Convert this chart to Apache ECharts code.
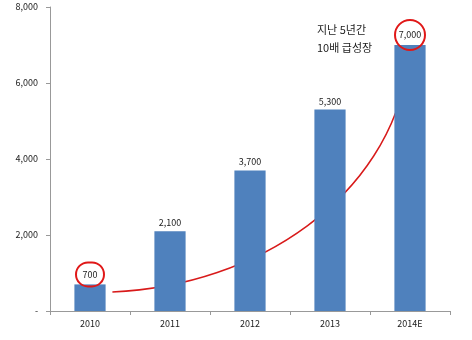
<!DOCTYPE html>
<html><head><meta charset="utf-8">
<script src="https://cdn.jsdelivr.net/npm/echarts@6/dist/echarts.min.js"></script>
<style>html,body{margin:0;padding:0;background:#fff}#c{width:472px;height:340px}</style>
</head><body><div id="c"></div>
<script>
var categories = ['2010', '2011', '2012', '2013', '2014E'];
var values = [700, 2100, 3700, 5300, 7000];
var circled = [0, 4];
var yTicks = [0, 2000, 4000, 6000, 8000];
var note = ['지난 5년간', '10배 급성장'];

var font = '"Noto Sans CJK KR", "Noto Sans", sans-serif';
function fmt(v){ return v === 0 ? '-' : v.toLocaleString('en-US'); }

var chart = echarts.init(document.getElementById('c'));
var data = values.map(function(v, i){
  var d = { value: v };
  if (circled.indexOf(i) >= 0) {
    var big = v >= 1000;
    d.label = {
      width: big ? 30 : 28, height: big ? 30 : 24, lineHeight: big ? 30 : 24,
      align: 'center', borderColor: '#e01818', borderWidth: 2,
      borderRadius: big ? 15 : 13, padding: 0,
      position: 'top', distance: big ? -5 : -2
    };
  }
  return d;
});
chart.setOption({
  animation: false,
  grid: { left: 50, right: 22, top: 7, bottom: 29 },
  xAxis: {
    type: 'category', data: categories,
    axisLine: { lineStyle: { color: '#999' } },
    axisTick: { show: true, alignWithLabel: false, length: 4, lineStyle: { color: '#999' } },
    axisLabel: { color: '#222', fontSize: 9, fontFamily: font, margin: 8 }
  },
  yAxis: {
    type: 'value', min: 0, max: yTicks[yTicks.length-1], interval: yTicks[1]-yTicks[0],
    splitLine: { show: false },
    axisLine: { show: true, lineStyle: { color: '#999' } },
    axisTick: { show: true, length: 4, lineStyle: { color: '#999' } },
    axisLabel: { color: '#222', fontSize: 9, fontFamily: font, margin: 12, formatter: fmt }
  },
  series: [{
    type: 'bar', data: data, barWidth: '39%',
    itemStyle: { color: '#4F81BD' },
    label: { show: true, position: 'top', distance: 4, color: '#222', fontSize: 9, fontFamily: font,
      formatter: function(p){ return fmt(p.value); } }
  }]
});

// annotation arrow built from axis coordinates
var p0 = chart.convertToPixel({ xAxisIndex: 0, yAxisIndex: 0 }, [0, 500]);
var p1 = chart.convertToPixel({ xAxisIndex: 0, yAxisIndex: 0 }, [1, 500]);
var step = p1[0] - p0[0];
var start = [p0[0] + step * 0.28, chart.convertToPixel({ yAxisIndex: 0 }, 500)];
var endX = chart.convertToPixel({ xAxisIndex: 0 }, 4);
var end = [endX - 2, chart.convertToPixel({ yAxisIndex: 0 }, 6550)];
var c1 = [p0[0] + step * 2.1, start[1] - 6];
var c2 = [endX - 22, chart.convertToPixel({ yAxisIndex: 0 }, 3000)];
chart.setOption({
  graphic: [
    { type: 'bezierCurve', shape: { x1: start[0], y1: start[1], x2: end[0], y2: end[1] + 4,
        cpx1: c1[0], cpy1: c1[1], cpx2: c2[0], cpy2: c2[1] },
      style: { stroke: '#d81a1a', lineWidth: 1.5, fill: null } },
    { type: 'polygon', shape: { points: [[end[0], end[1]-3], [end[0]-4, end[1]+7], [end[0]+3.5, end[1]+7]] },
      style: { fill: '#d81a1a' } },
    { type: 'text', left: 317, top: 24, style: { text: note[0], fontSize: 11, fontFamily: font, fill: '#222' } },
    { type: 'text', left: 317, top: 42, style: { text: note[1], fontSize: 11, fontFamily: font, fill: '#222' } }
  ]
});
</script></body></html>
